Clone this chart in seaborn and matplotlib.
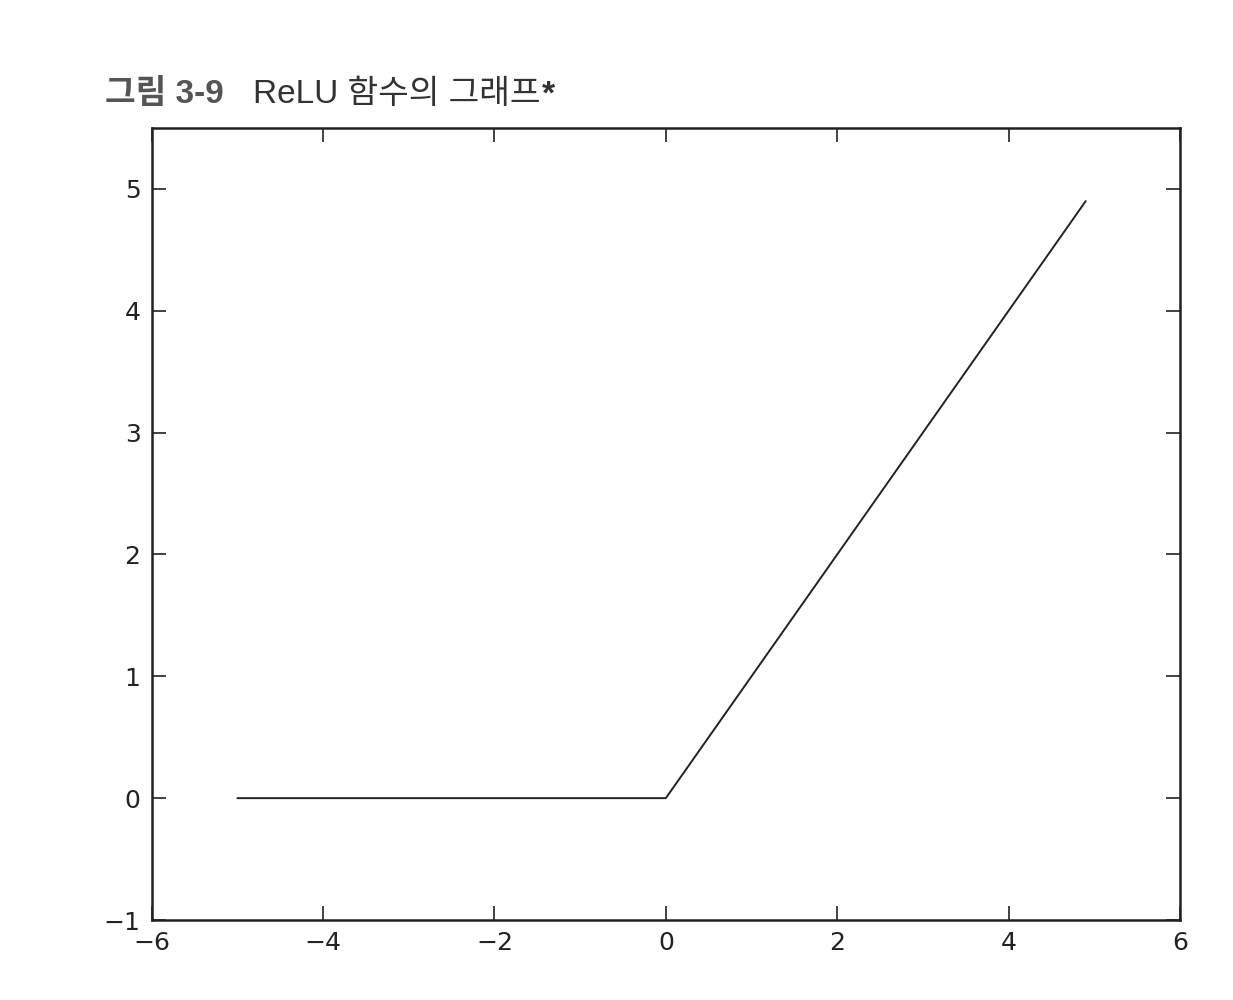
import matplotlib
matplotlib.use("Agg")
import matplotlib.pyplot as plt
import seaborn as sns
import pandas as pd

# Data (vertices of the ReLU curve)
x_vals = [-5.0, 0.0, 4.9]
y_vals = [0.0, 0.0, 4.9]
x_ticks = [-6, -4, -2, 0, 2, 4, 6]
y_ticks = [-1, 0, 1, 2, 3, 4, 5]
title_bold = "그림 3-9"
title_rest = "ReLU 함수의 그래프"
title_star = "*"

sns.set_style("ticks")
plt.rcParams['font.family'] = ['DejaVu Sans', 'Noto Sans CJK KR']

df = pd.DataFrame({"x": x_vals, "y": y_vals})

fig = plt.figure(figsize=(12.33, 10), dpi=100)
ax = fig.add_axes([0.123, 0.08, 0.834, 0.792])

sns.lineplot(data=df, x="x", y="y", ax=ax, color="#222222", linewidth=1.4,
             estimator=None, sort=False)

ax.set_xlim(-6, 6)
ax.set_ylim(-1, 5.5)
ax.set_xticks(x_ticks)
ax.set_yticks(y_ticks)
ax.set_xticklabels([str(t).replace("-", "\u2212") for t in x_ticks])
ax.set_yticklabels([str(t).replace("-", "\u2212") for t in y_ticks])
ax.set_xlabel("")
ax.set_ylabel("")
ax.tick_params(direction="in", length=10, width=1.2, top=True, right=True,
               labelsize=18, colors="#222222", pad=8)
for s in ax.spines.values():
    s.set_visible(True)
    s.set_linewidth(1.8)
    s.set_color("#222222")

t1 = fig.text(0.085, 0.905, title_bold, fontsize=24, fontweight="bold",
              family=["Liberation Sans", "Noto Sans CJK KR"], color="#555555",
              va="center", ha="left")
t2 = fig.text(0.205, 0.905, title_rest, fontsize=24,
              family=["Liberation Sans", "Noto Sans CJK KR"], color="#333333",
              va="center", ha="left")
fig.canvas.draw()
bb = t2.get_window_extent()
fig.text(bb.x1 / fig.bbox.width + 0.001, 0.905, title_star, fontsize=24,
         fontweight="bold", family=["Liberation Sans"], color="#333333",
         va="center", ha="left")

fig.savefig("out.png", dpi=100, facecolor="white")
